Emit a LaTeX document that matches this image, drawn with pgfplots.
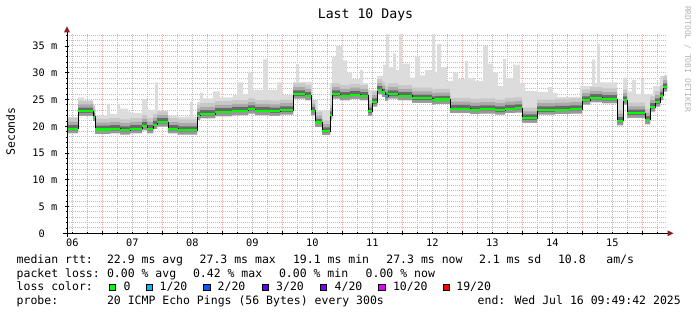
\documentclass[border=0pt]{standalone}
\usepackage{fontspec}
\usepackage{pgfplots}
\usepackage{pgfplotstable}
\usepgfplotslibrary{fillbetween}
\pgfplotsset{compat=1.18}
\setmainfont{DejaVu Sans Mono}
\newfontfamily\mono{DejaVu Sans Mono}
\newcommand\legf{\mono\fontsize{11.5}{13}\selectfont}
\newcommand\axf{\mono\fontsize{10.3}{12}\selectfont}
\newcommand\titf{\mono\fontsize{13.2}{15}\selectfont}
\newcommand\wmf{\mono\fontsize{8}{9}\selectfont}
\definecolor{mgrid}{HTML}{EBAAAA}
\definecolor{mingrid}{HTML}{BEBEBE}
\definecolor{arrowc}{HTML}{8F1F1F}
\definecolor{wmc}{HTML}{B4B4B4}
\definecolor{lossA}{HTML}{00FF00}
\definecolor{lossB}{HTML}{00B8FF}
\definecolor{lossC}{HTML}{0059FF}
\definecolor{lossD}{HTML}{5E00FF}
\definecolor{lossE}{HTML}{7E00FF}
\definecolor{lossF}{HTML}{DD00FF}
\definecolor{lossG}{HTML}{FF0000}
\definecolor{sE}{HTML}{DCDCDC}
\definecolor{sD}{HTML}{C8C8C8}
\definecolor{sC}{HTML}{AAAAAA}
\definecolor{sB}{HTML}{6A6A6A}
\definecolor{sA}{HTML}{989898}

% hours since Jul 06 00:00; median and smoke band edges (ms)
\pgfplotstableread{
h      m     lo    d1    u1    u2    u3
9.83   19.5  18.7  19.2  20.2  20.8  21.5
14.23  22.8  22.0  22.5  23.5  24.1  24.8
20.23  21.8  21.0  21.5  22.5  23.1  23.8
21.03  19.4  18.6  19.1  20.1  20.7  21.4
27.03  19.5  18.7  19.2  20.2  20.8  21.5
31.03  19.3  18.5  19.0  20.0  20.6  21.3
35.03  19.5  18.7  19.2  20.2  20.8  21.5
39.83  20.1  19.3  19.8  20.8  21.4  22.1
41.83  19.5  18.7  19.2  20.2  20.8  21.5
44.23  20.3  19.5  20.0  21.0  21.6  22.3
45.83  20.8  20.0  20.5  21.5  22.1  22.8
50.23  19.5  18.7  19.2  20.2  20.8  21.5
54.23  19.3  18.5  19.0  20.0  20.6  21.3
61.83  22.0  21.2  21.7  22.7  23.3  24.0
63.03  22.3  21.5  22.0  23.0  23.6  24.3
69.03  22.7  21.9  22.4  23.4  24.0  24.7
75.83  22.9  22.1  22.6  23.6  24.2  24.9
82.23  23.2  22.4  22.9  23.9  24.5  25.2
85.03  22.9  22.1  22.6  23.6  24.2  24.9
91.03  22.8  22.0  22.5  23.5  24.1  24.8
95.03  23.0  22.2  22.7  23.7  24.3  25.0
100.23 26.0  25.2  25.7  26.7  27.3  28.0
105.03 25.7  24.9  25.4  26.4  27.0  27.7
107.43 22.9  22.1  22.6  23.6  24.2  24.9
109.03 20.7  19.9  20.4  21.4  22.0  22.7
111.83 19.1  18.4  18.8  19.8  20.4  21.1
115.03 22.1  21.3  21.8  22.8  23.4  24.1
115.83 26.0  25.2  25.7  26.7  27.3  28.0
119.03 25.7  24.9  25.4  26.4  27.0  27.7
123.03 25.9  25.1  25.6  26.6  27.2  27.9
127.03 25.7  24.9  25.4  26.4  27.0  27.7
130.23 22.8  22.0  22.5  23.5  24.1  24.8
131.83 24.5  23.7  24.2  25.2  25.8  26.5
133.83 26.8  26.0  26.5  27.5  28.1  28.8
135.83 26.3  25.5  26.0  27.0  27.6  28.3
137.03 25.6  24.8  25.3  26.3  26.9  27.6
138.23 26.0  25.2  25.7  26.7  27.3  28.0
142.23 25.7  24.9  25.4  26.4  27.0  27.7
147.83 25.2  24.4  24.9  25.9  26.5  27.2
155.83 24.9  24.1  24.6  25.6  26.2  26.9
157.03 25.0  24.2  24.7  25.7  26.3  27.0
163.03 23.3  22.5  23.0  24.0  24.6  25.3
171.03 23.1  22.3  22.8  23.8  24.4  25.1
175.03 23.2  22.4  22.9  23.9  24.5  25.2
181.03 23.0  22.2  22.7  23.7  24.3  25.0
185.03 23.3  22.5  23.0  24.0  24.6  25.3
189.03 23.4  22.6  23.1  24.1  24.7  25.4
191.83 21.5  20.7  21.2  22.2  22.8  23.5
197.83 23.0  22.2  22.7  23.7  24.3  25.0
205.03 23.1  22.3  22.8  23.8  24.4  25.1
211.03 23.2  22.4  22.9  23.9  24.5  25.2
215.83 24.9  24.1  24.6  25.6  26.2  26.9
219.03 25.3  24.5  25.0  26.0  26.6  27.3
223.83 25.1  24.3  24.8  25.8  26.4  27.1
229.83 21.0  20.2  20.7  21.7  22.3  23.0
232.23 24.9  24.1  24.6  25.6  26.2  26.9
233.83 22.4  21.6  22.1  23.1  23.7  24.4
241.03 21.2  20.4  20.9  21.9  22.5  23.2
243.03 23.6  22.8  23.3  24.3  24.9  25.6
245.03 24.5  23.7  24.2  25.2  25.8  26.5
247.03 25.7  24.9  25.4  26.4  27.0  27.7
248.23 27.3  26.5  27.0  28.0  28.6  29.3
249.83 27.3  26.5  27.0  28.0  28.6  29.3
}\medtab

% highest ping (ms)
\pgfplotstableread{
h      mx
9.83   21.7
14.23  25.4
16.63  24.8
20.23  24.0
21.03  22.0
25.83  24.2
27.03  22.3
29.83  24.2
31.03  23.3
34.23  22.8
35.43  22.5
39.83  25.1
41.83  23.1
45.03  28.2
46.23  22.9
49.83  22.0
54.23  21.8
59.03  24.6
60.23  21.8
61.83  24.5
63.03  26.3
64.23  25.2
68.23  26.5
71.03  25.4
76.23  25.8
77.83  28.2
80.23  26.0
82.23  30.0
84.23  26.8
88.23  32.5
90.23  26.8
93.83  28.2
95.83  25.8
100.23 28.3
101.43 31.6
102.63 28.3
107.83 25.0
110.23 23.0
115.03 28.0
115.83 33.0
117.43 35.0
120.23 32.3
121.83 30.0
123.83 28.8
127.03 30.5
128.23 28.0
130.23 26.8
133.83 29.4
136.23 31.5
137.43 37.2
138.63 31.0
140.23 33.6
141.43 30.5
142.63 37.2
143.83 31.7
147.03 29.1
149.03 33.0
151.03 29.5
153.03 30.5
155.83 37.2
157.03 30.0
157.83 35.4
159.43 31.0
161.83 28.5
164.23 30.0
166.23 28.8
169.03 32.2
170.23 29.0
173.03 28.5
176.23 35.0
178.23 31.7
180.23 30.0
182.23 27.5
184.23 32.6
185.43 29.0
188.23 31.5
191.03 28.0
193.03 26.6
197.83 26.4
202.23 27.3
203.83 26.2
205.83 25.5
215.03 27.5
219.83 32.5
221.03 28.0
221.83 35.4
223.03 28.2
229.83 25.0
232.23 29.1
233.83 26.5
235.83 28.6
237.43 26.0
239.43 28.8
240.63 26.0
244.23 27.5
247.03 29.4
248.63 29.6
249.83 29.6
}\maxtab

\begin{document}
\begin{tikzpicture}
\path (0pt,0pt) rectangle (697pt,-315pt);
\begin{axis}[
  at={(67pt,-233.3pt)}, anchor=south west, scale only axis,
  width=600pt, height=200pt,
  xmin=9.83, xmax=249.83, ymin=0, ymax=37.37,
  axis line style={draw=none},
  xtick={24,48,...,240},
  xticklabels={,,,,,,,,,,},
  minor xtick={12,18,...,246},
  ytick={0,5,...,35},
  yticklabels={0\hphantom{\ m},5 m,10 m,15 m,20 m,25 m,30 m,35 m},
  minor ytick={1,...,37},
  grid=both,
  major grid style={mgrid, line width=1pt, dash pattern=on 1pt off 1pt},
  minor grid style={mingrid, line width=1pt, dash pattern=on 1pt off 1pt},
  extra x ticks={12,36,...,228},
  extra x tick labels={06,07,08,09,10,11,12,13,14,15},
  extra x tick style={grid=none, major tick length=0pt},
  tick style={black, line width=0.8pt},
  major tick length=4pt, minor tick length=2pt,
  tick align=center,
  xtick pos=bottom, ytick pos=left,
  ticklabel style={font=\axf, inner sep=0pt},
  xticklabel style={anchor=north, yshift=-5.5pt},
  yticklabel style={anchor=east, xshift=-7.5pt},
]
\addplot[draw=none, const plot, name path=lo] table[x=h,y=lo] {\medtab};
\addplot[draw=none, const plot, name path=d1] table[x=h,y=d1] {\medtab};
\addplot[draw=none, const plot, name path=u1] table[x=h,y=u1] {\medtab};
\addplot[draw=none, const plot, name path=u2] table[x=h,y=u2] {\medtab};
\addplot[draw=none, const plot, name path=u3] table[x=h,y=u3] {\medtab};
\addplot[draw=none, const plot, name path=mx] table[x=h,y=mx] {\maxtab};
\addplot[fill=sE, draw=none] fill between[of=lo and mx];
\addplot[fill=sD, draw=none] fill between[of=lo and u3];
\addplot[fill=sC, draw=none] fill between[of=lo and u2];
\addplot[fill=sB, draw=none] fill between[of=d1 and u1];
\addplot[fill=sA, draw=none] fill between[of=lo and d1];
\addplot[black, line width=0.9pt, const plot] table[x=h,y=m] {\medtab};
\addplot[lossA, line width=2.1pt, jump mark left] table[x=h,y=m] {\medtab};
\addplot[lossB, line width=2.1pt, jump mark left] coordinates {(137.03,25.6) (138.23,25.6)};
\end{axis}
\begin{scope}[x=1pt,y=1pt]
% axes and arrows
\draw[black, line width=1pt] (63,-233.3) -- (669,-233.3);
\fill[arrowc] (667.5,-230.3) -- (673.5,-233.3) -- (667.5,-236.3) -- cycle;
\draw[black, line width=1pt] (67,-237) -- (67,-32);
\fill[arrowc] (64,-32.5) -- (67,-26.5) -- (70,-32.5) -- cycle;
% titles
\node[font=\titf, anchor=base, inner sep=0pt] at (365.5,-18.3) {Last 10 Days};
\node[font=\legf, rotate=90, anchor=base, inner sep=0pt] at (15,-131.5) {Seconds};
\node[font=\wmf, text=wmc, rotate=-90, anchor=base, inner sep=0pt] at (685,-59) {RRDTOOL / TOBI OETIKER};
% legend
\begin{scope}[every node/.style={font=\legf, anchor=base west, inner sep=0pt}]
\node at (16.5,-264) {median rtt:};
\node at (106.8,-264) {22.9 ms avg};
\node at (199.5,-264) {27.3 ms max};
\node at (292.8,-264) {19.1 ms min};
\node at (386.2,-264) {27.3 ms now};
\node at (478.8,-264) {2.1 ms sd};
\node at (557.8,-264) {10.8};
\node at (606.2,-264) {am/s};
\node at (16.5,-277.5) {packet loss:};
\node at (106.8,-277.5) {0.00 \% avg};
\node at (192.8,-277.5) {0.42 \% max};
\node at (278.8,-277.5) {0.00 \% min};
\node at (365.5,-277.5) {0.00 \% now};
\node at (16.5,-291) {loss color:};
\node at (123.5,-291) {0};
\node at (159.5,-291) {1/20};
\node at (217.5,-291) {2/20};
\node at (276,-291) {3/20};
\node at (334.5,-291) {4/20};
\node at (392.8,-291) {10/20};
\node at (456.2,-291) {19/20};
\node at (16.5,-305) {probe:};
\node at (106.8,-305) {20 ICMP Echo Pings (56 Bytes) every 300s};
\node[anchor=base east] at (681,-305) {end: Wed Jul 16 09:49:42 2025};
\end{scope}
\begin{scope}[line width=0.8pt]
\draw[fill=lossA] (109.4,-284.6) rectangle (115.6,-290.8);
\draw[fill=lossB] (146.1,-284.6) rectangle (152.3,-290.8);
\draw[fill=lossC] (203.7,-284.6) rectangle (209.9,-290.8);
\draw[fill=lossD] (262.1,-284.6) rectangle (268.3,-290.8);
\draw[fill=lossE] (320.4,-284.6) rectangle (326.6,-290.8);
\draw[fill=lossF] (378.7,-284.6) rectangle (384.9,-290.8);
\draw[fill=lossG] (443.1,-284.6) rectangle (449.3,-290.8);
\end{scope}
\end{scope}
\end{tikzpicture}
\end{document}
